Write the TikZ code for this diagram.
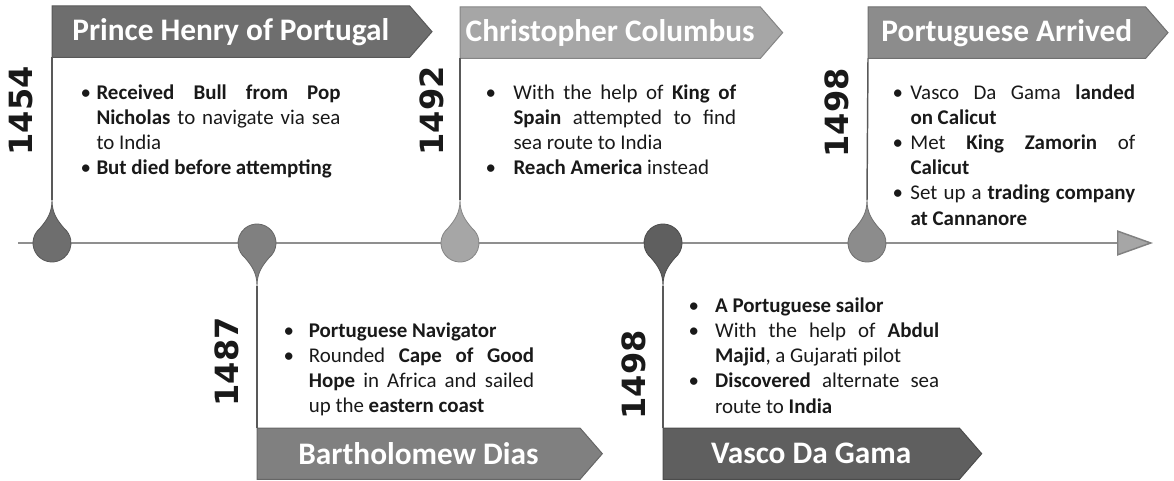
\documentclass[tikz,border=0pt]{standalone}
\usepackage{fontspec}
\setmainfont{Carlito}
\newfontfamily\yearfont{DejaVu Sans}
\usetikzlibrary{shapes.symbols,arrows.meta}

\definecolor{henrygray}{HTML}{6E6E6E}
\definecolor{diasgray}{HTML}{808080}
\definecolor{columbusgray}{HTML}{A6A6A6}
\definecolor{vascogray}{HTML}{5F5F5F}
\definecolor{arrivedgray}{HTML}{8C8C8C}
\definecolor{linegray}{HTML}{8F8F8F}

\newcommand\bitem[2][12pt]{\par\hangindent=#1\hangafter=1\noindent\makebox[#1][l]{\textbullet}#2\par}

\tikzset{every picture/.style={line width=0.75pt}}
\tikzset{
  banner/.style={shape=signal, signal to=east, signal pointer angle=98, fill=#1, draw=#1!80!black,
    text=white, font=\fontsize{23.5}{28}\selectfont\bfseries, inner sep=0pt, outer sep=0pt,
    anchor=north west, minimum height=38.5pt},
  yearlbl/.style={rotate=90, font=\yearfont\bfseries\fontsize{24}{28}\selectfont, text=black!90},
  bodytxt/.style={anchor=base west, inner sep=0pt, align=justify, text=black!90,
    font=\fontsize{15.7}{18.9}\selectfont},
  stem/.style={draw=black!65, line width=1.1pt},
  axisline/.style={draw=linegray, line width=1.1pt,
    -{Triangle[length=27pt, width=19pt, fill=columbusgray, color=linegray!90!black]}},
  droppin/.pic={
    \coordinate (-tip) at (0,-43);
    \filldraw[fill=#1, draw=#1!80!black, line width=0.6pt] (0,-43) .. controls (0,-30) and (5,-23) .. (-50:19)
      arc[start angle=-50, end angle=230, radius=19] .. controls (-5,-23) and (0,-30) .. cycle;
  }
}

\begin{document}
\begin{tikzpicture}[x=0.75pt,y=0.75pt,yscale=-1,xscale=1]
\useasboundingbox (0,0) rectangle (1174,481);

% Timeline
\coordinate (tstart) at (18,243);
\coordinate (tend) at (1153,243);
\draw[axisline] (tstart) -- (tend);

% Pins
\pic[rotate=180] (pina) at (52,243) {droppin=henrygray};
\pic (pinb) at (257,243) {droppin=diasgray};
\pic[rotate=180] (pinc) at (460,243) {droppin=columbusgray};
\pic (pind) at (663,243) {droppin=vascogray};
\pic[rotate=180] (pine) at (867,243) {droppin=arrivedgray};

% Banners
\node[banner=henrygray, minimum width=285pt] (henry) at (52,6) {Prince Henry of Portugal};
\node[banner=columbusgray, minimum width=242pt] (columbus) at (460,7) {Christopher Columbus};
\node[banner=arrivedgray, minimum width=225pt] (arrived) at (868,7) {Portuguese Arrived};
\node[banner=diasgray, minimum width=259pt] (dias) at (257,428) {Bartholomew Dias};
\node[banner=vascogray, minimum width=239pt] (vasco) at (663,428) {Vasco Da Gama};

% Connection
\draw[stem] (henry.south west) -- (pina-tip);
\draw[stem] (columbus.south west) -- (pinc-tip);
\draw[stem] (arrived.south west) -- (pine-tip);
\draw[stem] (pinb-tip) -- (dias.north west);
\draw[stem] (pind-tip) -- (vasco.north west);

% Years
\node[yearlbl] (y1454) at (21.5,111) {1454};
\node[yearlbl] (y1492) at (432,111) {1492};
\node[yearlbl] (y1498a) at (837,113) {1498};
\node[yearlbl] (y1487) at (227,362) {1487};
\node[yearlbl] (y1498b) at (634,375) {1498};

% Text Node
\node[bodytxt, text width=195pt] (henrytxt) at (80,74) {%
\bitem{\textbf{Received Bull from Pop}\linebreak \textbf{Nicholas} to navigate via sea to India}
\bitem{\textbf{But died before attempting}}};
% Text Node
\node[bodytxt, text width=188pt] (columbustxt) at (485,74) {%
\bitem[21pt]{With the help of \textbf{King of}\linebreak \textbf{Spain} attempted to find\linebreak sea route to India}
\bitem[21pt]{\textbf{Reach America} instead}};
% Text Node
\node[bodytxt, text width=182pt] (arrivedtxt) at (892,74) {%
\bitem[13.5pt]{Vasco Da Gama \textbf{landed}\linebreak \textbf{on Calicut}}
\bitem[13.5pt]{Met \textbf{King Zamorin} of\linebreak \textbf{Calicut}}
\bitem[13.5pt]{Set up a \textbf{trading company}\linebreak \textbf{at Cannanore}}};
% Text Node
\node[bodytxt, text width=188pt] (diastxt) at (283,312) {%
\bitem[19pt]{\textbf{Portuguese Navigator}}
\bitem[19pt]{Rounded \textbf{Cape of Good}\linebreak \textbf{Hope} in Africa and sailed\linebreak up the \textbf{eastern coast}}};
% Text Node
\node[bodytxt, text width=188pt] (vascotxt) at (688,287) {%
\bitem[20pt]{\textbf{A Portuguese sailor}}
\bitem[20pt]{With the help of \textbf{Abdul}\linebreak \textbf{Majid}, a Gujarati pilot}
\bitem[20pt]{\textbf{Discovered} alternate sea\linebreak route to \textbf{India}}};

\end{tikzpicture}
\end{document}
